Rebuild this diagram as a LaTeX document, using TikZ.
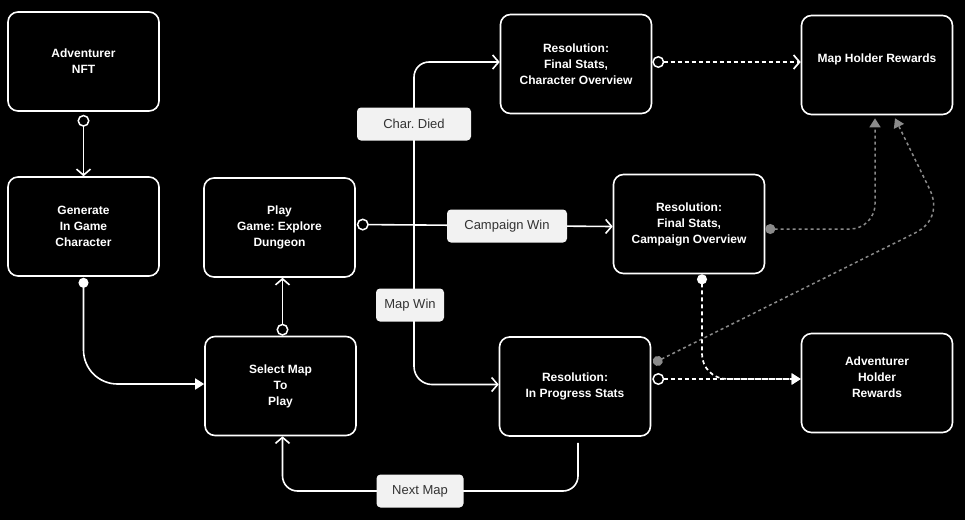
\documentclass[tikz,border=0pt]{standalone}
\usepackage{fontspec}
\setmainfont{Liberation Sans}
\frenchspacing
\usetikzlibrary{arrows.meta,calc}
\definecolor{lbl}{HTML}{F2F2F2}
\definecolor{lbltxt}{HTML}{333333}
\definecolor{dgray}{HTML}{8A8A8A}
\begin{document}
\begin{tikzpicture}[x=1pt,y=-1pt,
  stepbox/.style={draw=white,line width=1.6pt,rounded corners=10pt,fill=black,text=white,
     minimum width=151pt,minimum height=99pt,align=center,inner sep=0pt,
     font=\fontsize{12}{16}\selectfont\bfseries},
  txtonly/.style={text=white,align=center,inner sep=0pt,font=\fontsize{12}{16}\selectfont\bfseries},
  lab/.style={fill=lbl,rounded corners=4pt,text=lbltxt,minimum height=33pt,inner sep=0pt,
     font=\fontsize{13}{15}\selectfont},
  wline/.style={draw=white,line width=1.6pt},
  wdash/.style={draw=white,line width=1.7pt,dash pattern=on 4pt off 3pt},
  gdash/.style={draw=dgray,line width=1.5pt,dash pattern=on 3pt off 3pt},
  ocirc/.tip={Circle[open,length=12pt,width=12pt,fill=black,line width=1.5pt]},
  fcirc/.tip={Circle[length=10pt,width=10pt]},
  ttip/.tip={Triangle[length=9pt,width=11pt]},
  vbarb/.tip={Straight Barb[length=6pt,width=14pt]}
]
\useasboundingbox[fill=black] (0,0) rectangle (965,520);

% boxes
\node[stepbox] (nft)  at (83.5,61.5)  {Adventurer\\NFT};
\node[stepbox] (gen)  at (83.5,226.5) {Generate\\In Game\\Character};
\node[stepbox] (play) at (279.5,227.5) {Play\\Game: Explore\\Dungeon};
\node[stepbox] (sel)  at (280.5,386)  {Select Map\\To\\Play};
\node[stepbox] (char) at (576,64)     {Resolution:\\Final Stats,\\Character Overview};
\node[stepbox] (camp) at (689,224)    {Resolution:\\Final Stats,\\Campaign Overview};
\node[stepbox] (prog) at (575,386.5)  {Resolution:\\In Progress Stats};
\node[stepbox] (mhr)  at (877,65)     {};
\node[txtonly] (mhrt) at (877,59)     {Map Holder Rewards};
\node[stepbox] (adv)  at (877,383)    {};
\node[txtonly] (advt) at (877,377)    {Adventurer\\Holder\\Rewards};

% coordinates
\coordinate (jx) at (414,226);
\coordinate (advin) at ([yshift=4pt]adv.west);

% solid connectors
\draw[wline,{ocirc}-{vbarb}] ([yshift=-3pt]nft.south) -- (gen.north);
\draw[wline,{fcirc}-{ttip},rounded corners=34pt] ([yshift=-1pt]gen.south) |- ([yshift=2pt]sel.west);
\draw[wline,{ocirc}-{vbarb}] ([xshift=2pt,yshift=0pt]sel.north) -- ([xshift=2pt]sel.north |- play.south);
\draw[wline,{ocirc}-{vbarb}] ([xshift=1pt,yshift=3pt]play.east) -- ([yshift=1pt]play.east -| camp.west);
\draw[wline,-{vbarb},rounded corners=15pt] (jx) |- ([yshift=2pt]char.west);
\draw[wline,-{vbarb},rounded corners=18pt] (jx) |- ([yshift=2pt]prog.west);
\draw[wline,-{vbarb},rounded corners=15pt] ([xshift=3pt,yshift=-6pt]prog.south) |- (420,491) -| ([xshift=2pt]sel.south);

% dashed connectors
\draw[wdash,{ocirc}-{vbarb}] ([xshift=0pt,yshift=2pt]char.east) -- ([yshift=2pt]char.east -| mhr.west);
\draw[gdash,{fcirc}-{ttip},rounded corners=25pt] ([xshift=0pt,yshift=-5pt]camp.east) -| ([xshift=-2pt,yshift=-3pt]mhr.south);
\draw[gdash,{fcirc}-{ttip}] ([xshift=2pt,yshift=-27pt]prog.north east) -- (915,233) .. controls (935,223) and (937,205) .. (930,190) -- ([xshift=18pt,yshift=-3pt]mhr.south);
\draw[wdash,{fcirc}-{ttip},rounded corners=25pt] ([xshift=13pt,yshift=0pt]camp.south) |- (advin);
\draw[wdash,{ocirc}-{ttip}] ([xshift=1pt,yshift=7.5pt]prog.east) -- (advin);

% labels
\node[lab,minimum width=114pt] (died) at (414,124) {Char. Died};
\node[lab,minimum width=120pt] (cwin) at (507,226) {Campaign Win};
\node[lab,minimum width=68pt]  (mwin) at (410,305) {Map Win};
\node[lab,minimum width=87pt]  (nmap) at (420,491) {Next Map};
\end{tikzpicture}
\end{document}
